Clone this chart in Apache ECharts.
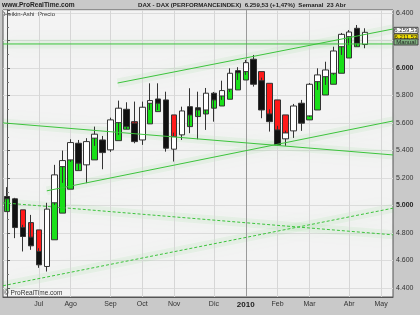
<!DOCTYPE html>
<html><head><meta charset="utf-8">
<script src="https://cdn.jsdelivr.net/npm/echarts@6/dist/echarts.min.js"></script>
<style>html,body{margin:0;padding:0;background:#c9c9c9}#c{width:420px;height:315px}</style>
</head><body><div id="c"></div>
<script>
// weekly categories (Monday of week), last three are empty future slots
const weeks = ['08/06/09','15/06/09','22/06/09','29/06/09','06/07/09','13/07/09','20/07/09','27/07/09',
 '03/08/09','10/08/09','17/08/09','24/08/09','31/08/09','07/09/09','14/09/09','21/09/09','28/09/09',
 '05/10/09','12/10/09','19/10/09','26/10/09','02/11/09','09/11/09','16/11/09','23/11/09','30/11/09',
 '07/12/09','14/12/09','21/12/09','28/12/09','04/01/10','11/01/10','18/01/10','25/01/10',
 '01/02/10','08/02/10','15/02/10','22/02/10','01/03/10','08/03/10','15/03/10','22/03/10','29/03/10',
 '05/04/10','12/04/10','19/04/10','26/04/10','03/05/10','10/05/10'];
const xLabels = ['','','','','Jul','','','','Ago','','','','','Sep','','','','Oct','','','','Nov','','','','',
 'Dic','','','','2010','','','','Feb','','','','Mar','','','','','Abr','','','','May',''];

// real weekly candles
const open  = [5065,5049,4840,4770,4666,4557,5020,5283,5332,5453,5296,5490,5477,5405,5603,5700,5599,5477,5744,5775,5768,5410,5514,5719,5710,5695,5817,5797,5846,5981,5974,6064,5908,5666,5550,5485,5543,5744,5652,5901,5937,5962,6155,6228,6289,6171];
const close = [5049,4840,4775,4707,4569,4974,5223,5327,5458,5308,5465,5519,5385,5623,5708,5574,5465,5715,5763,5744,5417,5501,5688,5659,5695,5817,5768,5836,5962,5966,6039,5882,5695,5610,5441,5528,5724,5599,5882,5950,5986,6124,6245,6262,6180,6259.53];
const low   = [4961,4763,4666,4678,4547,4520,5005,5165,5317,5259,5163,5434,5264,5390,5514,5557,5453,5441,5695,5695,5392,5320,5477,5526,5482,5550,5610,5768,5826,5913,5950,5865,5635,5538,5434,5434,5492,5543,5644,5841,5877,5950,6095,6167,6160,6144];
const high  = [5134,5056,4860,4932,4690,5020,5296,5400,5482,5477,5490,5574,5506,5639,5763,5751,5756,5756,5889,5889,5828,5530,5719,5853,5828,5855,5826,5908,5998,6006,6059,6095,5930,5700,5580,5545,5739,5768,5891,5998,6046,6155,6255,6276,6313,6289];

// Heikin-Ashi bodies
const haOpen  = [4956,5040,4969,4876,4823,4600,4751,4945,5119,5254,5320,5332,5400,5420,5472,5555,5610,5500,5594,5683,5750,5659,5530,5574,5647,5666,5708,5724,5773,5841,5913,6040,5974,5889,5768,5659,5560,5730,5623,5695,5804,5882,5962,6073,6155,6180];
const haClose = [5063,4850,4780,4714,4576,4900,5187,5310,5441,5405,5440,5506,5460,5600,5659,5659,5514,5690,5761,5768,5450,5477,5680,5695,5710,5768,5797,5826,5913,5971,6015,5900,5732,5623,5455,5492,5710,5610,5804,5928,5971,6095,6204,6247,6262,6250];

// trend lines: [x index, value] endpoints
const lineFlat   = [[-0.5,6175],[48.5,6175]];
const lineUpper  = [[13.9,5891],[48.5,6284]];
const lineLower  = [[5.0,5107],[48.5,5615]];
const lineDown   = [[-0.5,5601],[48.5,5368]];
const dashDown   = [[-0.5,5020],[48.5,4787]];
const dashUp     = [[-0.5,4417],[48.5,4981]];

const monthIdx = [4,8,13,17,21,26,30,34,38,43,47];
const priceBoxes = [
  {text:'6.259,53', value:6259.53, fill:'#ffffff', color:'#222'},
  {text:'6.211,53', value:6211.53, fill:'#f2e000', color:'#222'},
  {text:'Manual',   value:6175,    fill:'#7fb07f', color:'#222'}
];

const FONT = 'Liberation Sans, Arial, sans-serif';
const chart = echarts.init(document.getElementById('c'));

const realData = open.map((o,i)=>[o, close[i], low[i], high[i]]);
const haData = haOpen.map((o,i)=>[o, haClose[i], Math.min(o,haClose[i]), Math.max(o,haClose[i])]);

function glow(data){
  return {type:'line', xAxisIndex:1, yAxisIndex:0, data:data, symbol:'none', silent:true, z:4,
    lineStyle:{color:'rgba(70,200,70,0.07)', width:9, cap:'butt',
      shadowBlur:18, shadowColor:'rgba(70,200,70,0.45)'}};
}
function trend(data, dashed){
  return {type:'line', xAxisIndex:1, yAxisIndex:0, data:data, symbol:'none', silent:true, z:8,
    lineStyle:{color:'#3cc43c', width:1, type: dashed?[3,2]:'solid'}};
}

chart.setOption({
  animation:false,
  backgroundColor:'#c9c9c9',
  textStyle:{fontFamily:FONT},
  grid:{left:3, right:27, top:10, bottom:18, show:true, backgroundColor:'#f3f3f3', borderColor:'#555', borderWidth:1},
  xAxis:[{
    type:'category', data:weeks, boundaryGap:true, position:'bottom',
    axisLine:{lineStyle:{color:'#555'}},
    axisTick:{alignWithLabel:true, length:3, interval:(i)=>xLabels[i]!=='', lineStyle:{color:'#555'}},
    axisLabel:{interval:(i)=>xLabels[i]!=='', formatter:(v,i)=> xLabels[i]==='2010' ? '{b|2010}' : xLabels[i],
      fontSize:7, color:'#333', margin:4, fontFamily:FONT, rich:{b:{fontWeight:'bold', fontSize:8, color:'#222', fontFamily:FONT}}},
    splitLine:{show:false}
  },{
    type:'value', min:-0.5, max:48.5, show:false
  }],
  yAxis:{
    type:'value', position:'right', min:4335, max:6422, minInterval:200, maxInterval:200, scale:true,
    axisLine:{show:true, lineStyle:{color:'#555'}},
    axisTick:{show:true, length:3, lineStyle:{color:'#555'}},
    minorTick:{show:true, splitNumber:2, length:2, lineStyle:{color:'#777'}},
    axisLabel:{showMinLabel:false, showMaxLabel:false, fontSize:7, color:'#333', margin:3, fontFamily:FONT,
      formatter:(v)=>{ if (v===6200) return ''; const s=(v/1000).toFixed(3); return v%1000===0 ? '{b|'+s+'}' : s; },
      rich:{b:{fontWeight:'bold', fontSize:7, color:'#222', fontFamily:FONT}}},
    splitLine:{show:true, lineStyle:{color:'#dcdcdc'}}
  },
  series:[
    {type:'line', xAxisIndex:1, yAxisIndex:0, data:[], z:1, silent:true,
      markLine:{silent:true, symbol:'none', label:{show:false}, animation:false,
        lineStyle:{color:'#d6d6d6', type:'solid', width:1},
        data: monthIdx.map(i=>({xAxis:i, lineStyle:{color: xLabels[i]==='2010' ? '#9a9a9a' : '#d6d6d6', type:'solid', width:1}}))}},
    glow(lineFlat), glow(lineUpper), glow(lineLower), glow(lineDown), glow(dashDown), glow(dashUp),
    {type:'candlestick', data:haData, barWidth:6, z:6, silent:true,
      itemStyle:{color:'#19e019', color0:'#ff1a1a', borderColor:'#333', borderColor0:'#333', borderWidth:1}},
    {type:'candlestick', data:realData, barWidth:6, z:7, silent:true,
      itemStyle:{color:'#ffffff', color0:'#111111', borderColor:'#333', borderColor0:'#333', borderWidth:1}},
    trend(lineFlat,false), trend(lineUpper,false), trend(lineLower,false), trend(lineDown,false),
    trend(dashDown,true), trend(dashUp,true)
  ]
});

const gfx = [
  {type:'text', left:2, top:2, style:{text:'www.ProRealTime.com', font:'bold 6.6px '+FONT, fill:'#222'}},
  {type:'text', left:138, top:2, style:{text:'DAX - DAX (PERFORMANCEINDEX)  6.259,53 (+1,47%)  Semanal  23 Abr', font:'bold 6.1px '+FONT, fill:'#222'}},
  {type:'text', left:4, top:11, style:{text:'Heikin-Ashi', font:'6px '+FONT, fill:'#333'}},
  {type:'text', left:38, top:11, style:{text:'Precio', font:'6px '+FONT, fill:'#333'}},
  {type:'text', left:4, top:290, style:{text:'\u00a9 ProRealTime.com', font:'6.5px '+FONT, fill:'#333'}}
];
priceBoxes.forEach(b=>{
  const y = chart.convertToPixel({yAxisIndex:0}, b.value) - 2;
  gfx.push({type:'rect', shape:{x:394, y:y-3, width:24, height:6}, style:{fill:b.fill, stroke:'#444', lineWidth:1}, z:10});
  gfx.push({type:'text', x:406, y:y, style:{text:b.text, font:'6px '+FONT, fill:b.color, align:'center', verticalAlign:'middle'}, z:11});
});
chart.setOption({graphic:gfx});
</script></body></html>
